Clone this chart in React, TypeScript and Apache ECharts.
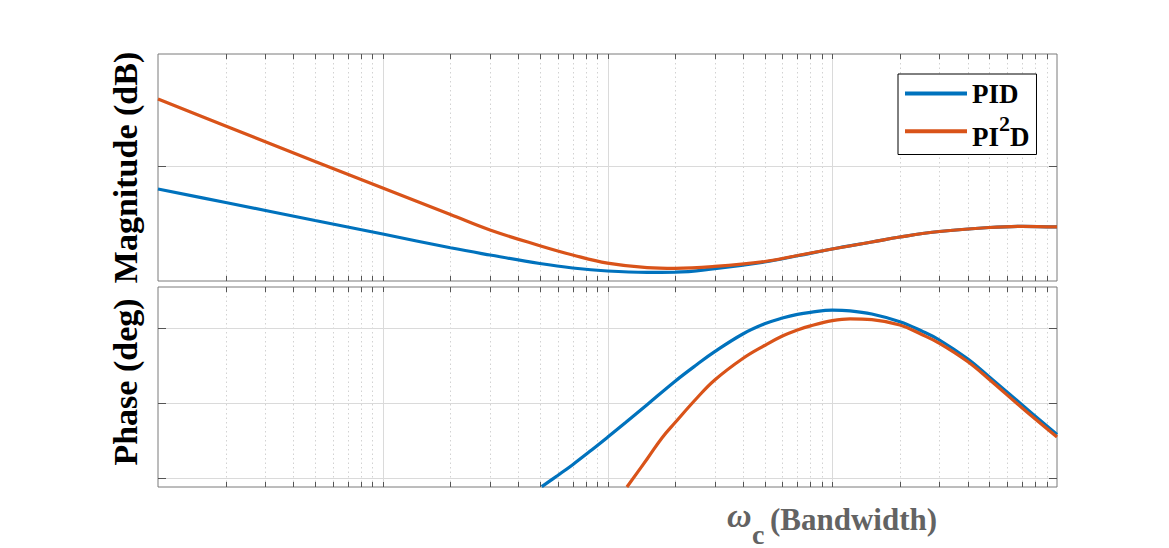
import React, { useEffect, useRef } from 'react';
import * as echarts from 'echarts';

// ---------- data ----------
const seriesNames = ['PID', 'PI²D'];
const seriesColors = ['#0072BD', '#D95319'];

const magFreq = [1, 2, 5, 10, 20, 30, 50, 70, 100, 150, 200, 300, 500, 700, 1000, 1500, 2000, 3000, 5000, 7000, 10000];
const magPID = [-4.09, -6.47, -9.64, -12.02, -14.45, -15.72, -17.22, -18.01, -18.54, -18.77, -18.75, -18.13, -16.95, -15.86, -14.66, -13.43, -12.55, -11.58, -10.87, -10.66, -10.78];
const magPI2D = [11.77, 7.01, 0.76, -3.91, -8.58, -11.31, -14.08, -15.72, -17.16, -17.94, -18.06, -17.73, -16.86, -15.81, -14.66, -13.43, -12.55, -11.58, -10.87, -10.66, -10.78];

const phaseFreqPID = [51, 60, 70, 85, 100, 120, 150, 200, 250, 300, 400, 500, 600, 700, 800, 1000, 1200, 1500, 2000, 2500, 3000, 4000, 5000, 7000, 10000];
const phasePID = [-5.2, 1.5, 8.0, 16.8, 24.4, 33.1, 44.0, 58.1, 68.1, 75.8, 86.4, 92.5, 96.0, 98.2, 99.4, 100.7, 100.3, 98.4, 93.8, 88.2, 82.8, 71.5, 60.6, 43.8, 26.1];
const phaseFreqPI2D = [122, 150, 175, 200, 250, 300, 400, 500, 600, 700, 800, 1000, 1200, 1500, 2000, 2500, 3000, 4000, 5000, 7000, 10000];
const phasePI2D = [-5.4, 11.4, 24.2, 33.3, 48.0, 58.8, 71.7, 79.5, 85.2, 88.8, 91.3, 94.4, 95.5, 95.0, 91.8, 86.1, 80.8, 69.9, 59.1, 42.0, 24.6];

const xTickValues = [
  1, 2, 3, 4, 5, 6, 7, 8, 9,
  10, 20, 30, 40, 50, 60, 70, 80, 90,
  100, 200, 300, 400, 500, 600, 700, 800, 900,
  1000, 2000, 3000, 4000, 5000, 6000, 7000, 8000, 9000,
  10000,
];
const xMajorValues = [1, 10, 100, 1000, 10000];
const magGridValues = [0];
const phaseGridValues = [0, 45, 90];

const xMin = 1;
const xMax = 10000;
const magRange = [-20.3, 19.7];
const phaseRange = [-5.4, 114.6];

const FONT = '"Liberation Serif", "Times New Roman", serif';

function zip(xs: number[], ys: number[]) {
  return xs.map((x, i) => [x, ys[i]]);
}

function xDecor(gi: number, yMin: number) {
  return {
    type: 'custom',
    name: 'xdecor' + gi,
    xAxisIndex: gi,
    yAxisIndex: gi,
    silent: true,
    z: 1,
    clip: false,
    data: xTickValues.map((v) => [v, yMin]),
    renderItem: (params: any, api: any) => {
      const v = api.value(0);
      const cs = params.coordSys;
      const x = Math.round(api.coord([v, yMin])[0]) + 0.5;
      const top = cs.y;
      const bot = cs.y + cs.height;
      const children: any[] = [];
      if (v === xMin || v === xMax) return { type: 'group', children };
      const major = xMajorValues.indexOf(v) >= 0;
      children.push({
        type: 'line',
        shape: { x1: x, y1: top, x2: x, y2: bot },
        style: major
          ? { stroke: '#dadada', lineWidth: 1 }
          : { stroke: '#d2d2d2', lineWidth: 1, lineDash: [1.5, 3] },
      });
      children.push({
        type: 'line',
        shape: { x1: x, y1: top, x2: x, y2: top + 5 },
        style: { stroke: '#555', lineWidth: 1 },
      });
      children.push({
        type: 'line',
        shape: { x1: x, y1: bot, x2: x, y2: bot - 5 },
        style: { stroke: '#555', lineWidth: 1 },
      });
      return { type: 'group', children };
    },
  };
}

function yDecor(gi: number, vals: number[]) {
  return {
    type: 'custom',
    name: 'ydecor' + gi,
    xAxisIndex: gi,
    yAxisIndex: gi,
    silent: true,
    z: 1,
    clip: false,
    data: vals.map((v) => [xMin, v]),
    renderItem: (params: any, api: any) => {
      const v = api.value(1);
      const cs = params.coordSys;
      const y = Math.round(api.coord([xMin, v])[1]) + 0.5;
      const l = cs.x;
      const r = cs.x + cs.width;
      return {
        type: 'group',
        children: [
          { type: 'line', shape: { x1: l, y1: y, x2: r, y2: y }, style: { stroke: '#dadada', lineWidth: 1 } },
          { type: 'line', shape: { x1: l, y1: y, x2: l + 8, y2: y }, style: { stroke: '#555', lineWidth: 1 } },
          { type: 'line', shape: { x1: r, y1: y, x2: r - 8, y2: y }, style: { stroke: '#555', lineWidth: 1 } },
        ],
      };
    },
  };
}

function lineSeries(gi: number, idx: number, data: number[][]) {
  return {
    type: 'line',
    name: seriesNames[idx],
    xAxisIndex: gi,
    yAxisIndex: gi,
    data,
    showSymbol: false,
    symbol: 'none',
    smooth: 0.4,
    clip: true,
    z: 3 + idx,
    color: seriesColors[idx],
    lineStyle: { width: 3.2, color: seriesColors[idx] },
  };
}

export default function App() {
  const ref = useRef<HTMLDivElement>(null);

  useEffect(() => {
    if (!ref.current) return;
    const chart = echarts.init(ref.current, undefined, { renderer: 'svg' });

    const axisX = (gi: number) => ({
      type: 'log',
      logBase: 10,
      gridIndex: gi,
      min: xMin,
      max: xMax,
      axisLabel: { show: false },
      axisTick: { show: false },
      axisLine: { show: false },
      splitLine: { show: false },
      minorTick: { show: false },
    });
    const axisY = (gi: number, range: number[]) => ({
      type: 'value',
      gridIndex: gi,
      min: range[0],
      max: range[1],
      axisLabel: { show: false },
      axisTick: { show: false },
      axisLine: { show: false },
      splitLine: { show: false },
    });

    const option: any = {
      animation: false,
      backgroundColor: '#ffffff',
      grid: [
        { left: 158, top: 54, width: 899, height: 227, show: true, borderColor: '#7a7a7a', borderWidth: 1, backgroundColor: 'transparent' },
        { left: 158, top: 287, width: 899, height: 200, show: true, borderColor: '#7a7a7a', borderWidth: 1, backgroundColor: 'transparent' },
      ],
      xAxis: [axisX(0), axisX(1)],
      yAxis: [axisY(0, magRange), axisY(1, phaseRange)],
      legend: {
        data: seriesNames,
        left: 898,
        top: 74,
        orient: 'vertical',
        selectedMode: false,
        icon: 'rect',
        itemWidth: 62,
        itemHeight: 4,
        itemGap: 5,
        padding: [6, 7, 4, 7],
        backgroundColor: '#ffffff',
        borderColor: '#000000',
        borderWidth: 1,
        formatter: (name: string) => (name === 'PID' ? '{a|PID}' : '{a|PI}{s|2}{a|D}'),
        textStyle: {
          fontFamily: FONT,
          fontWeight: 'bold',
          fontSize: 27,
          color: '#000',
          rich: {
            a: { fontFamily: FONT, fontWeight: 'bold', fontSize: 27, lineHeight: 27, color: '#000', verticalAlign: 'bottom' },
            s: { fontFamily: FONT, fontWeight: 'bold', fontSize: 22, color: '#000', verticalAlign: 'top', padding: [0, 0, 16.5, 0] },
          },
        },
      },
      graphic: [
        { type: 'text', x: 125, y: 167.5, rotation: Math.PI / 2, silent: true,
          style: { text: 'Magnitude (dB)', fontFamily: FONT, fontWeight: 'bold', fontSize: 34, fill: '#000', align: 'center', verticalAlign: 'middle' } },
        { type: 'text', x: 125, y: 382, rotation: Math.PI / 2, silent: true,
          style: { text: 'Phase (deg)', fontFamily: FONT, fontWeight: 'bold', fontSize: 34, fill: '#000', align: 'center', verticalAlign: 'middle' } },
        { type: 'text', x: 727, y: 515, silent: true,
          style: { text: 'ω', fontFamily: FONT, fontWeight: 'bold', fontStyle: 'italic', fontSize: 34, fill: '#636363', align: 'left', verticalAlign: 'middle' } },
        { type: 'text', x: 752, y: 534, silent: true,
          style: { text: 'c', fontFamily: FONT, fontWeight: 'bold', fontSize: 28, fill: '#636363', align: 'left', verticalAlign: 'middle' } },
        { type: 'text', x: 770, y: 519.5, silent: true,
          style: { text: '(Bandwidth)', fontFamily: FONT, fontWeight: 'bold', fontSize: 31, fill: '#636363', align: 'left', verticalAlign: 'middle' } },
      ],
      series: [
        xDecor(0, magRange[0]),
        yDecor(0, magGridValues),
        xDecor(1, phaseRange[0]),
        yDecor(1, phaseGridValues),
        lineSeries(0, 0, zip(magFreq, magPID)),
        lineSeries(0, 1, zip(magFreq, magPI2D)),
        lineSeries(1, 0, zip(phaseFreqPID, phasePID)),
        lineSeries(1, 1, zip(phaseFreqPI2D, phasePI2D)),
      ],
    };

    chart.setOption(option);
    return () => {
      chart.dispose();
    };
  }, []);

  return (
    <div
      ref={ref}
      style={{ position: 'fixed', left: 0, top: 0, width: 1169, height: 548, background: '#fff' }}
    />
  );
}
